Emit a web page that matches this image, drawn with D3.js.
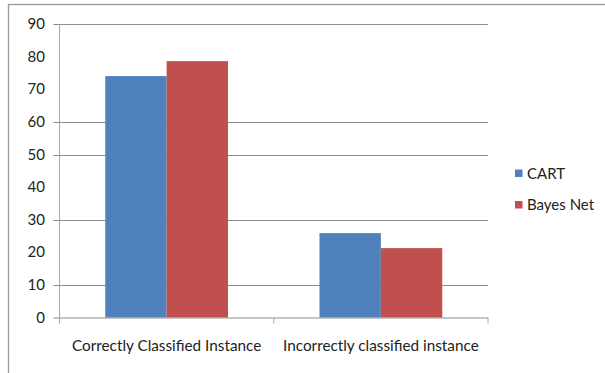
<!DOCTYPE html>
<html><head><meta charset="utf-8">
<script src="https://cdn.jsdelivr.net/npm/d3@7/dist/d3.min.js"></script>
<style>
html,body{margin:0;padding:0;background:#fff;}
svg text{font-family:Lato,"Open Sans",sans-serif;fill:#222;}
</style></head>
<body><svg id="c" width="605" height="373"></svg>
<script>
const categories = ["Correctly Classified Instance", "Incorrectly classified instance"];
const seriesNames = ["CART", "Bayes Net"];
const cartValues = [74.1, 25.9];
const bayesValues = [78.7, 21.3];
const yTicks = [0, 10, 20, 30, 40, 50, 60, 70, 80, 90];
const gridValues = [10, 30, 50, 60, 90];
const colors = ["#4F81BD", "#C0504D"];

(function () {
const svg = d3.select("#c");
// outer chart border (clipped at right and bottom)
svg.append("rect").attr("x", 8.5).attr("y", 4.5).attr("width", 620).attr("height", 400)
  .attr("fill", "none").attr("stroke", "#9a9a9a").attr("stroke-width", 1.3);

const pLeft = 59.5, pRight = 488, pTop = 24.3, pBottom = 317.5;
const y = d3.scaleLinear().domain([0, 90]).range([pBottom, pTop]);
const x0 = d3.scaleBand().domain(categories).range([pLeft, pRight]).paddingInner(0).paddingOuter(0);
const x1 = d3.scaleBand().domain(seriesNames).range([0, x0.bandwidth()]).paddingInner(0).paddingOuter(0.745);

// gridlines
svg.append("g").selectAll("line").data(gridValues).join("line")
  .attr("x1", pLeft - 6).attr("x2", pRight).attr("y1", d => Math.round(y(d)) + 0.5).attr("y2", d => Math.round(y(d)) + 0.5)
  .attr("stroke", "#8c8c8c").attr("stroke-width", 1);

// y-axis line
svg.append("line").attr("x1", pLeft).attr("x2", pLeft).attr("y1", pTop).attr("y2", pBottom)
  .attr("stroke", "#a8a8a8").attr("stroke-width", 1);

// bars
const data = categories.map((c, i) => ({cat: c, vals: [cartValues[i], bayesValues[i]]}));
const g = svg.append("g");
data.forEach(d => {
  g.append("g").selectAll("rect").data(d.vals.map((v, j) => ({s: seriesNames[j], v, j}))).join("rect")
    .attr("x", e => x0(d.cat) + x1(e.s))
    .attr("y", e => y(e.v))
    .attr("width", x1.bandwidth())
    .attr("height", e => pBottom - y(e.v))
    .attr("fill", e => colors[e.j]);
});

// x axis baseline and ticks
svg.append("line").attr("x1", pLeft - 6).attr("x2", pRight).attr("y1", pBottom + 0.5).attr("y2", pBottom + 0.5)
  .attr("stroke", "#8c8c8c");
const xTickPos = [pLeft, pLeft + x0.bandwidth(), pRight];
svg.append("g").selectAll("line").data(xTickPos).join("line")
  .attr("x1", d => d).attr("x2", d => d).attr("y1", pBottom).attr("y2", pBottom + 6)
  .attr("stroke", "#a8a8a8");

// y tick labels
svg.append("g").selectAll("text").data(yTicks).join("text")
  .attr("x", 45).attr("y", d => y(d) + 5).attr("text-anchor", "end")
  .style("font-size", "15px").text(d => d);

// x category labels
svg.append("g").selectAll("text").data(categories).join("text")
  .attr("x", d => x0(d) + x0.bandwidth() / 2).attr("y", 351).attr("text-anchor", "middle")
  .style("font-size", "15.3px").text(d => d);

// legend
const lg = svg.append("g");
seriesNames.forEach((s, i) => {
  lg.append("rect").attr("x", 515).attr("y", 169.5 + i * 31.5).attr("width", 7.5).attr("height", 7.5).attr("fill", colors[i]);
  lg.append("text").attr("x", 527).attr("y", 178.5 + i * 31.5).style("font-size", "15px").text(s);
});
})();
</script></body></html>
